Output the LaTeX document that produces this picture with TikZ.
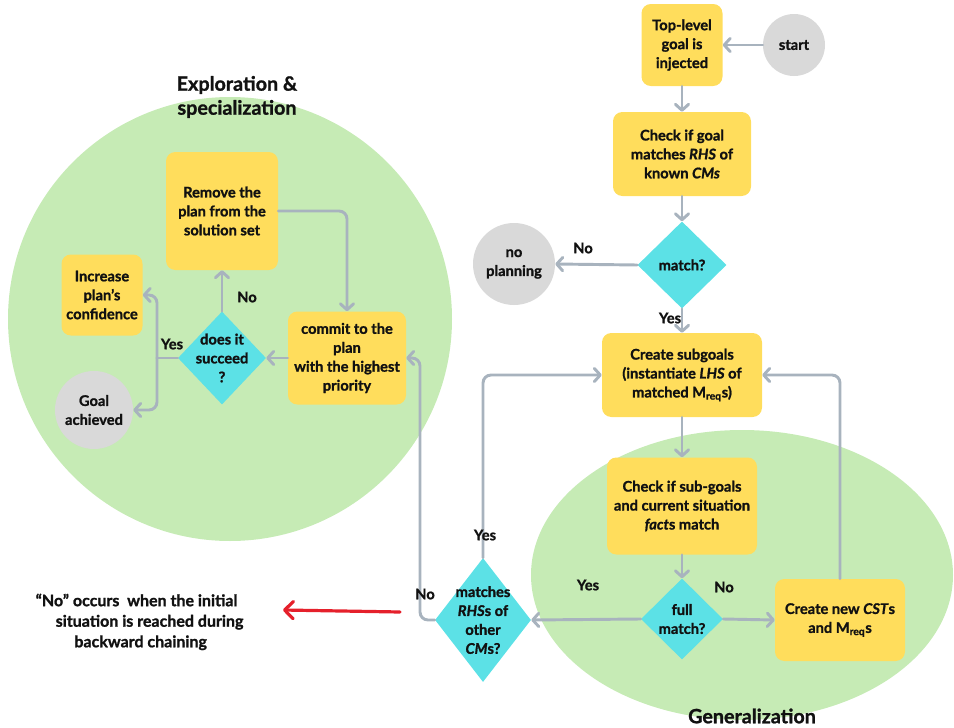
\documentclass[tikz,border=0pt]{standalone}
\usepackage{fontspec}
\setmainfont{Lato}[BoldFeatures={FakeBold=1.2},BoldItalicFeatures={FakeBold=1.2}]
\usetikzlibrary{shapes.geometric,arrows.meta}

\definecolor{boxyellow}{HTML}{FFDD5C}
\definecolor{diacyan}{HTML}{5CE1E6}
\definecolor{termgray}{HTML}{D9D9D9}
\definecolor{zonegreen}{HTML}{C6EBB5}
\definecolor{flowgray}{HTML}{A8B3BE}
\definecolor{notered}{HTML}{E5202B}
\definecolor{ink}{HTML}{111111}

\begin{document}
\begin{tikzpicture}[x=0.75pt,y=-0.75pt,
  every node/.style={font=\bfseries\fontsize{11}{14.2}\selectfont, text=ink, align=center},
  stepbox/.style 2 args={rectangle, rounded corners=7pt, fill=boxyellow,
    minimum width=#1, minimum height=#2, inner sep=0pt},
  dia/.style 2 args={diamond, aspect=1, fill=diacyan,
    minimum width=#1, minimum height=#2, inner sep=0pt},
  dtext/.style={align=center, inner sep=0pt},
  term/.style={circle, fill=termgray, minimum size=#1, inner sep=0pt},
  zone/.style={fill=zonegreen, draw=none},
  zonetitle/.style={font=\bfseries\fontsize{14.8}{18}\selectfont},
  lbl/.style={font=\bfseries\fontsize{11}{12}\selectfont, inner sep=0pt},
  flow/.style={draw=flowgray, line width=2.2pt, rounded corners=6pt,
    line cap=round, line join=round,
    -{Straight Barb[length=4.5pt,width=10pt,line cap=round,line join=round]}},
  link/.style={draw=flowgray, line width=2.2pt, rounded corners=6pt,
    line cap=round, line join=round},
  notearrow/.style={draw=notered, line width=2.4pt, line cap=round,
    -{Straight Barb[length=6.5pt,width=13pt,line cap=round,line join=round]}},
  note/.style={font=\bfseries\fontsize{12}{15.4}\selectfont, align=left, anchor=north west}
]
\useasboundingbox (0,0) rectangle (954,728);

% shaded regions
\fill[zone] (230,319) circle[radius=222];
\fill[zone] (742,575) ellipse[x radius=211, y radius=145];
\node[zonetitle] (exptitle) at (237,97) {Exploration \&\\specialization};
\node[zonetitle] (gentitle) at (752,716) {Generalization};

% main backward-chaining column
\node[stepbox={60.75pt}{61.5pt}] (top) at (682,45) {Top-level\\goal is\\injected};
\node[term=46.5pt] (start) at (794,45) {start};
\node[stepbox={103.5pt}{63pt}] (chk) at (682,154) {Check if goal\\matches \textit{RHS} of\\known \textit{CMs}};
\node[dia={66.75pt}{65.25pt}, label={[dtext]center:match?}] (match) at (682,265) {};
\node[term=61.5pt] (noplan) at (514,264) {no\\planning};
\node[stepbox={120pt}{63pt}] (sub) at (682,375) {Create subgoals\\(instantiate \textit{LHS} of\\matched M\textsubscript{req}s)};
\node[stepbox={112.5pt}{72.75pt}] (chk2) at (682,506) {Check if sub-goals\\and current situation\\\textit{fact}s match};
\node[dia={61.5pt}{60.75pt}, label={[dtext]center:{full\\match?}}] (full) at (682,619) {};
\node[stepbox={97.5pt}{61.5pt}] (cst) at (840,620) {Create new \textit{CST}s\\and M\textsubscript{req}s};
\node[dia={72pt}{93pt}, label={[dtext]center:{matches\\\textit{RHS}s of\\other\\\textit{CM}s?}}] (rhs) at (483,620) {};

% exploration loop
\node[stepbox={88.5pt}{69.75pt}] (commit) at (347,358) {commit to the\\plan\\with the highest\\priority};
\node[dia={66pt}{69.75pt}, label={[dtext]center:{does it\\succeed\\?}}] (succ) at (222,358) {};
\node[stepbox={84pt}{88.5pt}] (remove) at (222,211) {Remove the\\plan from the\\solution set};
\node[stepbox={60.75pt}{60.75pt}] (incr) at (102,295) {Increase\\plan’s\\confidence};
\node[term=58.5pt] (goal) at (94,410) {Goal\\achieved};

% bend points
\coordinate (noturn) at (420,620);
\coordinate (ysplit) at (157,358);

% connectors
\draw[flow] (start.west) -- (top.east);
\draw[flow] (top.south) -- (chk.north);
\draw[flow] (chk.south) -- (match.north);
\draw[flow] (match.west) -- (noplan.east);
\draw[flow] (match.south) -- (sub.north);
\draw[flow] (sub.south) -- (chk2.north);
\draw[flow] (chk2.south) -- (full.north);
\draw[flow] (full.west) -- (rhs.east);
\draw[flow] (full.east) -- (cst.west);
\draw[flow] (cst.north) |- (sub.east);
\draw[flow] (rhs.north) |- (sub.west);
\draw[flow] (rhs.west) -- (noturn) |- (commit.east);
\draw[flow] (commit.west) -- (succ.east);
\draw[flow] (succ.north) -- (remove.south);
\draw[flow] (remove.east) -| (commit.north);
\draw[link] (succ.west) -- (ysplit);
\draw[flow] (ysplit) |- (incr.east);
\draw[flow] (ysplit) |- (goal.east);

% branch labels
\node[lbl] (no-plan) at (583,248) {No};
\node[lbl] (yes-sub) at (670,318) {Yes};
\node[lbl] (yes-full) at (588,585) {Yes};
\node[lbl] (no-full) at (724,587) {No};
\node[lbl] (yes-rhs) at (485,535) {Yes};
\node[lbl] (no-rhs) at (425,594) {No};
\node[lbl] (no-succ) at (247,297) {No};
\node[lbl] (yes-succ) at (172,344) {Yes};

% side note
\coordinate (ra) at (400,612);
\coordinate (rb) at (283,610);
\draw[notearrow] (ra) -- (rb);
\node[note] (sidenote) at (31,589) {“No” occurs\ \ when the initial\\
\hspace*{15pt}situation is reached during\\
\hspace*{29pt}backward chaining};
\end{tikzpicture}
\end{document}
